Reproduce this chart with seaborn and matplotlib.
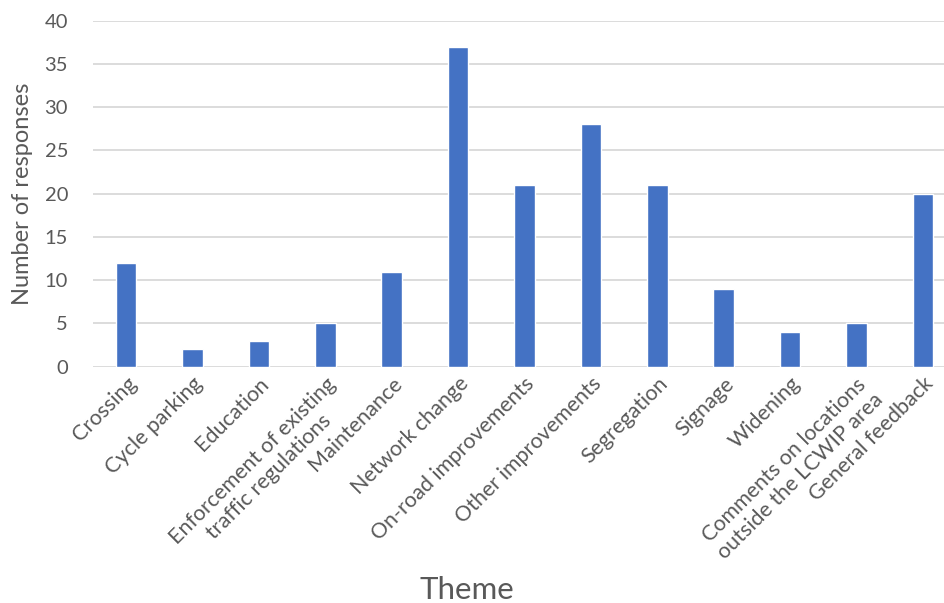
import pandas as pd
import matplotlib
matplotlib.use("Agg")
import matplotlib.pyplot as plt
import seaborn as sns

# data
themes = [
    "Crossing",
    "Cycle parking",
    "Education",
    "Enforcement of existing\ntraffic regulations",
    "Maintenance",
    "Network change",
    "On-road improvements",
    "Other improvements",
    "Segregation",
    "Signage",
    "Widening",
    "Comments on locations\noutside the LCWIP area",
    "General feedback",
]
responses = [12, 2, 3, 5, 11, 37, 21, 28, 21, 9, 4, 5, 20]
y_ticks = [0, 5, 10, 15, 20, 25, 30, 35, 40]

df = pd.DataFrame({"Theme": themes, "Responses": responses})

sns.set_theme(style="white")
plt.rcParams["font.family"] = ["Lato", "DejaVu Sans"]

text_color = "#595959"
bar_color = "#4472C4"
grid_color = "#D9D9D9"

fig = plt.figure(figsize=(9.44, 6.03), dpi=100)
ax = fig.add_axes([93 / 944, 1 - 366.7 / 603, 863 / 944, 346 / 603])

sns.barplot(data=df, x="Theme", y="Responses", color=bar_color,
            width=0.31, saturation=1, ax=ax, zorder=3)

ax.set_xlim(-0.5, len(themes) - 0.5)
ax.set_ylim(0, 40)
ax.set_yticks(y_ticks)
ax.yaxis.grid(True, color=grid_color, linewidth=1.3, zorder=0)
ax.set_axisbelow(True)
for side in ["top", "right", "left", "bottom"]:
    ax.spines[side].set_visible(False)

ax.tick_params(axis="y", length=0, pad=18, labelsize=14.5, labelcolor=text_color)
ax.tick_params(axis="x", length=0, pad=5, labelsize=15.5, labelcolor=text_color)
for lbl in ax.get_xticklabels():
    lbl.set_rotation(45)
    lbl.set_ha("right")
    lbl.set_rotation_mode("anchor")
    lbl.set_multialignment("center")

ax.set_ylabel("Number of responses", fontsize=17, color=text_color, labelpad=8)
ax.set_xlabel("")
fig.text(467 / 944, 1 - 590 / 603, "Theme", fontsize=22.5, color=text_color,
         ha="center", va="center")

fig.savefig("out.png", dpi=100)
